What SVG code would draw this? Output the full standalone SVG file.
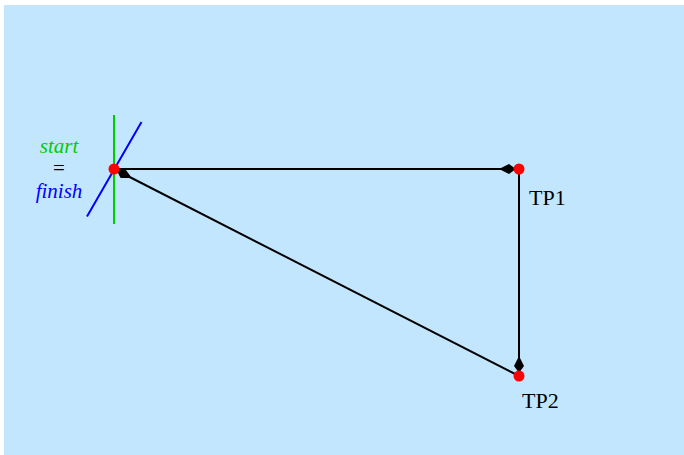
<svg xmlns="http://www.w3.org/2000/svg" width="684" height="455" viewBox="0 0 684 455">
<style>
.leg{fill:none;stroke:#000;stroke-width:2}
.pt{fill:#ff0000}
.lbl{font-family:"Liberation Serif","Times New Roman",serif;font-size:22px}
.sf{font-family:"Liberation Serif","Times New Roman",serif;font-size:21px}
</style>
<defs>
<marker id="ah" markerUnits="userSpaceOnUse" viewBox="0 -6 22 12" markerWidth="22" markerHeight="12" refX="20" refY="0" orient="auto">
<path d="M0,0 L10,-5 L15.5,-1 L15.5,1 L10,5 Z" fill="#000"/>
</marker>
</defs>
<rect x="4" y="5" width="680" height="450" fill="#c3e6ff"/>
<g id="connectors">
<line class="leg" x1="114" y1="169" x2="519" y2="169" marker-end="url(#ah)"/>
<line class="leg" x1="519" y1="169" x2="519" y2="376" marker-end="url(#ah)"/>
<line class="leg" x1="519" y1="376" x2="114" y2="169" marker-end="url(#ah)"/>
</g>
<g id="start">
<line x1="114" y1="115" x2="114" y2="224" stroke="#00cc00" stroke-width="2"/>
<line x1="87" y1="216.5" x2="141.5" y2="122" stroke="#0000ff" stroke-width="2"/>
<circle class="pt" cx="114" cy="169" r="5.5"/>
<text class="sf" x="59" y="153" text-anchor="middle" fill="#00cc00" font-style="italic">start</text>
<text class="sf" x="59" y="175" text-anchor="middle" fill="#000">=</text>
<text class="sf" x="59" y="198" text-anchor="middle" fill="#0000ff" font-style="italic">finish</text>
</g>
<g id="tp1">
<circle class="pt" cx="519" cy="169" r="5.5"/>
<text class="lbl" x="529" y="205" fill="#000">TP1</text>
</g>
<g id="tp2">
<circle class="pt" cx="519" cy="376" r="5.5"/>
<text class="lbl" x="522" y="408" fill="#000">TP2</text>
</g>
</svg>
